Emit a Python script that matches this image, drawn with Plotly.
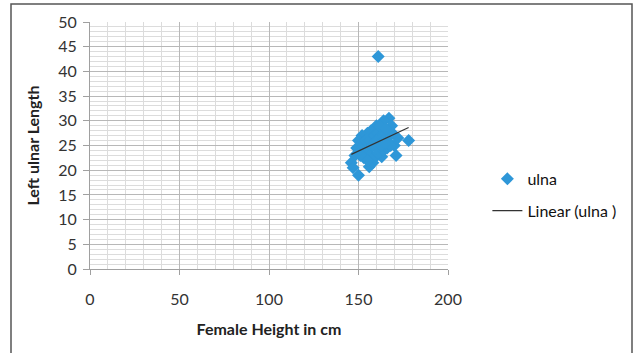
import numpy as np
import plotly.graph_objects as go

heights = [161, 167, 164, 168.5, 160, 157, 155, 152, 150, 149, 148, 146, 147, 150,
           156, 158, 163, 171, 170, 178, 172, 169,
           153, 155, 157, 159, 161, 154, 156, 158, 160, 162, 164, 166, 168,
           157, 159, 161, 163, 165, 167, 160, 162, 164, 166, 159, 163, 165,
           152, 151, 153, 155, 162, 165]
ulna = [43, 30.5, 30, 29, 29, 28, 27.5, 27, 26, 24.5, 23, 21.5, 20.5, 19,
        20.7, 21.5, 22.7, 23, 25, 26, 26.5, 27.5,
        25, 24, 23, 22.5, 23.5, 26, 26, 25, 24.5, 24, 24, 24.5, 25,
        27, 27, 27.5, 27, 27.5, 27, 26, 26, 26, 26, 25.5, 25, 25.5,
        24, 23, 22.5, 22, 29, 28.5]

x_ticks = [0, 50, 100, 150, 200]
y_ticks = [0, 5, 10, 15, 20, 25, 30, 35, 40, 45, 50]

hx = np.array(heights, dtype=float)
uy = np.array(ulna, dtype=float)
slope, intercept = np.polyfit(hx, uy, 1)
lx = np.array([hx.min(), hx.max()])
ly = slope * lx + intercept

FONT = "Lato, 'Open Sans', sans-serif"

fig = go.Figure()
fig.add_trace(go.Scatter(x=heights, y=ulna, mode="markers", name="ulna", legendgroup="a",
                         marker=dict(symbol="diamond", size=10, color="#2e97d8")))
fig.add_trace(go.Scatter(x=lx, y=ly, mode="lines", name="Linear (ulna )", legendgroup="b",
                         line=dict(color="#333333", width=1.2)))

fig.update_layout(
    width=637, height=353,
    margin=dict(l=90, r=189, t=22, b=84),
    paper_bgcolor="white", plot_bgcolor="white",
    font=dict(family=FONT, size=16, color="#222222"),
    showlegend=True,
    legend=dict(x=1.11, y=0.30, xanchor="left", yanchor="middle",
                font=dict(size=16, color="#111111"), tracegroupgap=8,
                itemwidth=30, bgcolor="rgba(0,0,0,0)"),
    xaxis=dict(range=[0, 200], tickvals=x_ticks, showgrid=True, gridcolor="#b8b8b8",
               gridwidth=1, minor=dict(dtick=10, showgrid=True, gridcolor="#dcdcdc"),
               showline=True, linecolor="#a0a0a0", ticks="outside", ticklen=5,
               tickcolor="#a0a0a0", ticklabelstandoff=11, zeroline=False,
               title=dict(text="<b>Female Height in cm</b>", standoff=16,
                          font=dict(size=16, color="#222222")),
               tickfont=dict(size=16, color="#333333")),
    yaxis=dict(range=[0, 50], tickvals=y_ticks, showgrid=True, gridcolor="#b8b8b8",
               gridwidth=1, minor=dict(dtick=1, showgrid=True, gridcolor="#dcdcdc"),
               showline=True, linecolor="#a0a0a0", ticks="outside", ticklen=6,
               tickcolor="#a0a0a0", ticklabelstandoff=3, zeroline=False,
               title=dict(text="<b>Left ulnar Length</b>", standoff=14,
                          font=dict(size=16, color="#222222")),
               tickfont=dict(size=16, color="#333333")),
)

# outer chart border
fig.add_shape(type="rect", xref="paper", yref="paper",
              x0=(11 - 90) / 358, x1=(632 - 90) / 358,
              y0=-0.4, y1=(269 - 4) / 247,
              line=dict(color="#555555", width=1.5), fillcolor="rgba(0,0,0,0)", layer="below")

fig.write_html("out.html", config={"displayModeBar": False},
               post_script="document.body.style.margin='0px';")
